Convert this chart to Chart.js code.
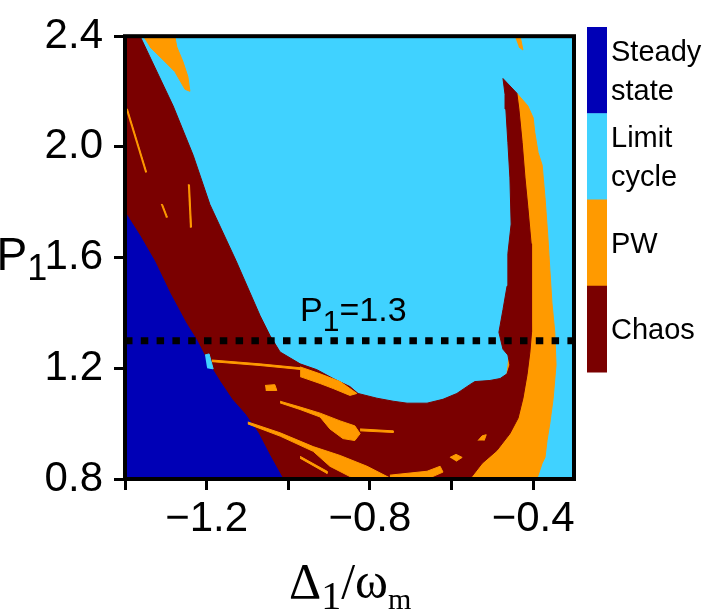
<!DOCTYPE html>
<html><head><meta charset="utf-8">
<script src="https://cdn.jsdelivr.net/npm/chart.js@4/dist/chart.umd.min.js"></script>
<style>html,body{margin:0;padding:0;background:#fff}canvas{display:block}</style>
</head><body>
<canvas id="c" width="706" height="610"></canvas>
<script>
// ---------------- data ----------------
const phases = ['Steady state', 'Limit cycle', 'PW', 'Chaos'];
const phaseLabelLines = [['Steady', 'state'], ['Limit', 'cycle'], ['PW'], ['Chaos']];

const xRange = [-1.4, -0.3];          // Δ1/ωm
const yRange = [0.8, 2.4];            // P1
const xTickValues = [-1.4, -1.2, -1.0, -0.8, -0.6, -0.4];
const xTickLabels = ['', '\u22121.2', '', '\u22120.8', '', '\u22120.4'];
const yTickValues = [0.8, 1.2, 1.6, 2.0, 2.4];
const yTickLabels = ['0.8', '1.2', '1.6', '2.0', '2.4'];

const cutP1 = 1.3;                    // dotted cut line P1 = 1.3

// region boundaries [Δ1/ωm, P1]
const limitCycleRegion = [[-1.4, 0.8], [-0.3, 0.8], [-0.3, 2.4], [-1.4, 2.4]];
const pwRightBand = [[-0.440, 2.194], [-0.413, 2.148], [-0.400, 2.105], [-0.396, 2.052], [-0.388, 1.980],
  [-0.378, 1.934], [-0.371, 1.817], [-0.364, 1.675], [-0.359, 1.554], [-0.354, 1.436], [-0.347, 1.330],
  [-0.344, 1.212], [-0.351, 1.092], [-0.359, 1.003], [-0.366, 0.939], [-0.371, 0.878], [-0.378, 0.857],
  [-0.391, 0.8], [-0.57, 0.8], [-0.47, 1.1], [-0.44, 1.5], [-0.45, 2.1]];
const chaosRegion = [[-1.4, 2.4], [-1.363, 2.4], [-1.282, 2.148], [-1.233, 1.970], [-1.192, 1.792],
  [-1.128, 1.589], [-1.069, 1.390], [-1.045, 1.319], [-1.020, 1.259], [-0.971, 1.216], [-0.930, 1.195],
  [-0.890, 1.163], [-0.849, 1.134], [-0.829, 1.109], [-0.783, 1.092], [-0.743, 1.081], [-0.709, 1.074],
  [-0.660, 1.074], [-0.621, 1.088], [-0.587, 1.109], [-0.555, 1.141], [-0.543, 1.152], [-0.506, 1.156],
  [-0.481, 1.163], [-0.464, 1.180], [-0.457, 1.212], [-0.462, 1.248], [-0.474, 1.269], [-0.484, 1.330],
  [-0.474, 1.412], [-0.464, 1.497], [-0.462, 1.614], [-0.454, 1.721], [-0.457, 1.888], [-0.462, 2.016],
  [-0.467, 2.137], [-0.469, 2.190], [-0.474, 2.247], [-0.440, 2.194], [-0.435, 2.137], [-0.427, 2.016],
  [-0.420, 1.888], [-0.413, 1.781], [-0.405, 1.650], [-0.405, 1.508], [-0.403, 1.330], [-0.408, 1.259],
  [-0.415, 1.177], [-0.425, 1.092], [-0.437, 1.020], [-0.457, 0.964], [-0.489, 0.903], [-0.525, 0.857],
  [-0.555, 0.8], [-1.4, 0.8]];
const steadyRegion = [[-1.4, 1.764], [-1.363, 1.678], [-1.327, 1.586], [-1.290, 1.472], [-1.251, 1.365],
  [-1.224, 1.301], [-1.197, 1.223], [-1.167, 1.152], [-1.138, 1.088], [-1.106, 1.035], [-1.074, 0.967],
  [-1.045, 0.885], [-1.013, 0.8], [-1.4, 0.8]];
const limitCyclePatch = [[-1.204, 1.248], [-1.194, 1.252], [-1.184, 1.198], [-1.199, 1.202]];
const pwTopLeft = [[-1.356, 2.4], [-1.278, 2.4], [-1.273, 2.361], [-1.258, 2.308], [-1.246, 2.254],
  [-1.241, 2.201], [-1.253, 2.208], [-1.278, 2.272], [-1.309, 2.318], [-1.339, 2.361]];
const pwTopRight = [[-0.445, 2.4], [-0.432, 2.4], [-0.425, 2.350], [-0.435, 2.361]];
const pwBowlEdge = [[-0.971, 1.205], [-0.922, 1.180], [-0.873, 1.152], [-0.832, 1.109], [-0.849, 1.102],
  [-0.890, 1.127], [-0.922, 1.145], [-0.971, 1.170]];
const pwThinLine = [[-1.187, 1.230], [-1.069, 1.216], [-0.971, 1.202], [-0.971, 1.196], [-1.069, 1.210], [-1.187, 1.224]];
const pwLongStreak = [[-1.020, 1.081], [-0.971, 1.060], [-0.922, 1.038], [-0.873, 1.010], [-0.837, 0.992],
  [-0.824, 0.964], [-0.837, 0.939], [-0.866, 0.946], [-0.898, 0.981], [-0.922, 1.024], [-0.971, 1.051], [-1.020, 1.075]];
const pwStreakTail = [[-0.824, 0.981], [-0.743, 0.974], [-0.743, 0.968], [-0.824, 0.974]];
const pwBottomWedge = [[-1.099, 1.006], [-1.020, 0.967], [-0.939, 0.917], [-0.873, 0.885], [-0.807, 0.846],
  [-0.746, 0.8], [-0.837, 0.8], [-0.898, 0.846], [-0.939, 0.900], [-1.020, 0.955], [-1.099, 0.999]];
const pwBottomStrip = [[-0.751, 0.814], [-0.660, 0.828], [-0.628, 0.846], [-0.621, 0.825], [-0.660, 0.8], [-0.751, 0.8]];
const pwLowStreak = [[-0.971, 0.882], [-0.905, 0.828], [-0.905, 0.820], [-0.971, 0.875]];
const pwBlobA = [[-0.604, 0.878], [-0.589, 0.889], [-0.574, 0.878], [-0.589, 0.864]];
const pwBlobB = [[-0.535, 0.939], [-0.525, 0.956], [-0.515, 0.960], [-0.520, 0.939]];
const pwBlobC = [[-1.057, 1.138], [-1.033, 1.141], [-1.028, 1.120], [-1.055, 1.120]];
const pwLeftStreak1 = [[-1.398, 2.137], [-1.394, 2.137], [-1.347, 1.909], [-1.351, 1.909]];
const pwLeftStreak2 = [[-1.312, 1.792], [-1.308, 1.792], [-1.296, 1.746], [-1.300, 1.746]];
const pwLeftStreak3 = [[-1.246, 1.863], [-1.242, 1.863], [-1.237, 1.710], [-1.241, 1.710]];

// ---------------- styles ----------------
const COLORS = { steady: '#0000b6', limit: '#40d2ff', pw: '#ff9a00', chaos: '#7a0000' };
const phaseColors = [COLORS.steady, COLORS.limit, COLORS.pw, COLORS.chaos];
const SANS = '"Liberation Sans", Arial, Helvetica, sans-serif';
const SERIF = '"Liberation Serif", "Times New Roman", serif';

const toPts = arr => arr.map(([x, y]) => ({ x, y }));
let layer = 100;
function region(label, pts, color) {
  return { label, data: toPts(pts), showLine: true, fill: 'shape', backgroundColor: color,
    borderColor: color, borderWidth: 1, pointRadius: 0, pointHoverRadius: 0, tension: 0, order: layer-- };
}

const datasets = [
  region('Limit cycle', limitCycleRegion, COLORS.limit),
  region('PW', pwRightBand, COLORS.pw),
  region('Chaos', chaosRegion, COLORS.chaos),
  region('Steady state', steadyRegion, COLORS.steady),
  region('Limit cycle', limitCyclePatch, COLORS.limit),
  region('PW', pwTopLeft, COLORS.pw),
  region('PW', pwTopRight, COLORS.pw),
  region('PW', pwBowlEdge, COLORS.pw),
  region('PW', pwThinLine, COLORS.pw),
  region('PW', pwLongStreak, COLORS.pw),
  region('PW', pwStreakTail, COLORS.pw),
  region('PW', pwBottomWedge, COLORS.pw),
  region('PW', pwBottomStrip, COLORS.pw),
  region('PW', pwLowStreak, COLORS.pw),
  region('PW', pwBlobA, COLORS.pw),
  region('PW', pwBlobB, COLORS.pw),
  region('PW', pwBlobC, COLORS.pw),
  region('PW', pwLeftStreak1, COLORS.pw),
  region('PW', pwLeftStreak2, COLORS.pw),
  region('PW', pwLeftStreak3, COLORS.pw),
  { label: 'cut', data: [{ x: xRange[0], y: cutP1 }, { x: xRange[1], y: cutP1 }], showLine: true, fill: false,
    borderColor: '#000', borderWidth: 7, borderDash: [7.5, 8.3], borderCapStyle: 'butt',
    pointRadius: 0, order: 0 }
];

const overlay = {
  id: 'overlay',
  afterDraw(chart) {
    const { ctx, chartArea: a, scales: { x, y } } = chart;
    ctx.save();
    // frame
    ctx.strokeStyle = '#000';
    ctx.lineWidth = 4;
    ctx.strokeRect(a.left, a.top, a.right - a.left, a.bottom - a.top);
    ctx.fillStyle = '#000';
    ctx.textBaseline = 'alphabetic';
    ctx.textAlign = 'left';
    // cut label P1=1.3
    let cx = x.getPixelForValue(-0.971);
    const cy = y.getPixelForValue(cutP1) - 20;
    ctx.font = '34px ' + SANS; ctx.fillText('P', cx, cy); cx += ctx.measureText('P').width;
    ctx.font = '30px ' + SANS; ctx.fillText('1', cx, cy + 10); cx += ctx.measureText('1').width;
    ctx.font = '34px ' + SANS; ctx.fillText('=1.3', cx, cy);
    // y title
    ctx.font = '46px ' + SANS; ctx.fillText('P', -3.5, 270);
    let px = -3.5 + ctx.measureText('P').width;
    ctx.font = '36px ' + SANS; ctx.fillText('1', px, 280);
    // x title
    let tx = 289; const ty = 598;
    ctx.font = '50px ' + SERIF; ctx.fillText('\u0394', tx, ty); tx += ctx.measureText('\u0394').width;
    ctx.font = '40px ' + SERIF; ctx.fillText('1', tx, ty + 11); tx += ctx.measureText('1').width;
    ctx.font = '50px ' + SERIF; ctx.fillText('/\u03c9', tx, ty); tx += ctx.measureText('/\u03c9').width;
    ctx.font = '30px ' + SERIF; ctx.fillText('m', tx, ty + 11);
    // colour bar legend
    const barX = 587, barW = 20, barTop = 27, segH = 86.25;
    phases.forEach((p, i) => {
      ctx.fillStyle = phaseColors[i];
      ctx.fillRect(barX, barTop + i * segH, barW, segH + 0.5);
    });
    ctx.fillStyle = '#000';
    ctx.font = '29px ' + SANS;
    phaseLabelLines.forEach((lines, i) => {
      const mid = barTop + (i + 0.5) * segH;
      const lh = 39;
      lines.forEach((t, j) => {
        const base = mid + 10.5 + (j - (lines.length - 1) / 2) * lh;
        ctx.fillText(t, 611, base);
      });
    });
    ctx.restore();
  }
};

new Chart(document.getElementById('c'), {
  type: 'scatter',
  data: { datasets },
  options: {
    responsive: false,
    devicePixelRatio: 1,
    animation: false,
    events: [],
    layout: { padding: { left: 0, top: 29, right: 132, bottom: 0 } },
    plugins: { legend: { display: false }, tooltip: { enabled: false } },
    scales: {
      x: {
        type: 'linear', min: xRange[0], max: xRange[1],
        afterBuildTicks: s => { s.ticks = xTickValues.map(v => ({ value: v })); },
        afterFit: s => { s.height = 131; },
        ticks: { callback: (v, i) => xTickLabels[i], autoSkip: false, maxRotation: 0, padding: 4,
          color: '#000', font: { family: SANS, size: 42 } },
        grid: { display: true, drawOnChartArea: false, drawTicks: true, tickLength: 11, tickWidth: 3, tickColor: '#000' },
        border: { display: false }
      },
      y: {
        type: 'linear', min: yRange[0], max: yRange[1],
        afterBuildTicks: s => { s.ticks = yTickValues.map(v => ({ value: v })); },
        afterFit: s => { s.width = 125; },
        ticks: { callback: (v, i) => yTickLabels[i], autoSkip: false, padding: 11,
          color: '#000', font: { family: SANS, size: 42 } },
        grid: { display: true, drawOnChartArea: false, drawTicks: true, tickLength: 11, tickWidth: 3, tickColor: '#000' },
        border: { display: false }
      }
    }
  },
  plugins: [overlay]
});
</script>
</body></html>
